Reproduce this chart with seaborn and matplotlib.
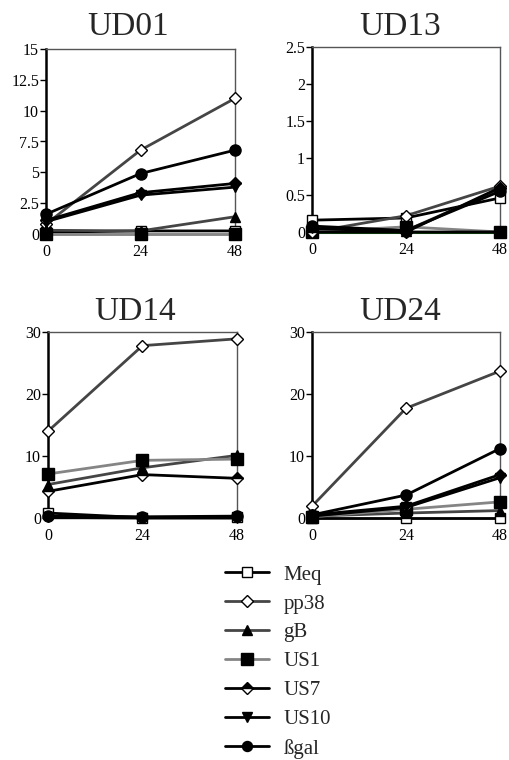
import matplotlib
matplotlib.use("Agg")
import matplotlib.pyplot as plt
import seaborn as sns
import numpy as np
from matplotlib.lines import Line2D

sns.set_theme(style="white")
plt.rcParams['font.family'] = ['Liberation Serif', 'DejaVu Serif']

# ---------------- data ----------------
times = [0, 24, 48]
series = ["Meq", "pp38", "gB", "US1", "US7", "US10", "\u00dfgal"]
panels = ["UD01", "UD13", "UD14", "UD24"]

ud01_meq = [0.15, 0.25, 0.25]
ud01_pp38 = [0.8, 6.8, 11.0]
ud01_gb = [0.3, 0.25, 1.4]
ud01_us1 = [0.0, 0.0, 0.0]
ud01_us7 = [1.1, 3.35, 4.1]
ud01_us10 = [1.0, 3.15, 3.8]
ud01_bgal = [1.6, 4.9, 6.8]

ud13_meq = [0.16, 0.19, 0.46]
ud13_pp38 = [0.0, 0.22, 0.62]
ud13_gb = [0.0, 0.02, 0.58]
ud13_us1 = [0.0, 0.07, 0.0]
ud13_us7 = [0.0, 0.0, 0.6]
ud13_us10 = [0.05, 0.0, 0.0]
ud13_bgal = [0.08, 0.02, 0.55]
ud13_extra = [0.0, 0.0, 0.0]   # green line drawn along zero in UD13

ud14_meq = [0.8, 0.05, 0.15]
ud14_pp38 = [14.0, 27.8, 28.9]
ud14_gb = [5.4, 8.1, 10.1]
ud14_us1 = [7.1, 9.3, 9.5]
ud14_us7 = [4.3, 7.0, 6.4]
ud14_us10 = [0.1, 0.0, 0.0]
ud14_bgal = [0.3, 0.2, 0.3]

ud24_meq = [0.0, 0.0, 0.0]
ud24_pp38 = [1.9, 17.7, 23.7]
ud24_gb = [0.3, 0.8, 1.2]
ud24_us1 = [0.2, 1.4, 2.6]
ud24_us7 = [0.5, 1.9, 7.0]
ud24_us10 = [0.3, 1.7, 6.5]
ud24_bgal = [0.5, 3.7, 11.2]

y_max = [15, 2.5, 30, 30]
y_ticks = [[0, 2.5, 5, 7.5, 10, 12.5, 15],
           [0, 0.5, 1, 1.5, 2, 2.5],
           [0, 10, 20, 30],
           [0, 10, 20, 30]]
y_ticklabels = [["0", "2.5", "5", "7.5", "10", "12.5", "15"],
                ["0", "0.5", "1", "1.5", "2", "2.5"],
                ["0", "10", "20", "30"],
                ["0", "10", "20", "30"]]
x_ticklabels = ["0", "24", "48"]

panel_data = [
    [ud01_meq, ud01_pp38, ud01_gb, ud01_us1, ud01_us7, ud01_us10, ud01_bgal],
    [ud13_meq, ud13_pp38, ud13_gb, ud13_us1, ud13_us7, ud13_us10, ud13_bgal],
    [ud14_meq, ud14_pp38, ud14_gb, ud14_us1, ud14_us7, ud14_us10, ud14_bgal],
    [ud24_meq, ud24_pp38, ud24_gb, ud24_us1, ud24_us7, ud24_us10, ud24_bgal],
]

# ---------------- styles ----------------
styles = {
    "Meq": dict(color="black", marker="s", markerfacecolor="white", markersize=7.5),
    "pp38": dict(color="#454545", marker="D", markerfacecolor="white", markersize=6.5),
    "gB": dict(color="#454545", marker="^", markerfacecolor="black", markersize=7.5),
    "US1": dict(color="#858585", marker="s", markerfacecolor="black", markersize=9),
    "US7": dict(color="black", marker="D", markerfacecolor="black", markersize=6.5,
                fillstyle="top", markerfacecoloralt="white"),
    "US10": dict(color="black", marker="v", markerfacecolor="black", markersize=7.5),
    "\u00dfgal": dict(color="black", marker="o", markerfacecolor="black", markersize=8),
}
LW = 2.0

W, H = 510, 760
fig = plt.figure(figsize=(W / 100, H / 100), dpi=100)

# axes boxes in pixels: left, right, top, bottom
boxes = [(46, 235, 49, 234), (312, 500, 47, 232), (48, 237, 332, 518), (312, 500, 332, 518)]
title_xy = [(128, 35), (400, 35), (135, 320), (400, 320)]

for i, (l, r, t, b) in enumerate(boxes):
    ax = fig.add_axes([l / W, 1 - b / H, (r - l) / W, (b - t) / H])
    ax.set_facecolor("white")
    if i == 1:
        sns.lineplot(x=times, y=ud13_extra, ax=ax, color="#1a6b1a", lw=2.2, clip_on=False, zorder=2)
    for name, vals in zip(series, panel_data[i]):
        st = styles[name]
        sns.lineplot(x=times, y=vals, ax=ax, lw=LW, markeredgecolor="black",
                     markeredgewidth=1.0, clip_on=False, zorder=3, **st)
    ax.set_xlim(0, 48)
    ax.set_ylim(0, y_max[i])
    ax.set_xticks(times)
    ax.set_xticklabels(x_ticklabels)
    ax.set_yticks(y_ticks[i])
    ax.set_yticklabels(y_ticklabels[i])
    ax.tick_params(axis="both", labelsize=11.5, colors="black")
    ax.tick_params(axis="y", direction="out", length=4, width=1, left=True, pad=1)
    ax.tick_params(axis="x", direction="out", length=2, width=1, bottom=True, pad=5)
    ax.set_xlabel("")
    ax.set_ylabel("")
    for side in ["top", "right"]:
        ax.spines[side].set_color("#555555")
        ax.spines[side].set_linewidth(1.0)
    ax.spines["left"].set_color("black")
    ax.spines["left"].set_linewidth(1.8)
    ax.spines["bottom"].set_color("black")
    ax.spines["bottom"].set_linewidth(1.0)
    tx, ty = title_xy[i]
    fig.text(tx / W, 1 - ty / H, panels[i], ha="center", va="baseline", fontsize=24)
    ax.grid(False)

handles = []
for name in series:
    st = dict(styles[name])
    st["markersize"] = st["markersize"] * 0.9
    handles.append(Line2D([0], [0], lw=LW, markeredgecolor="black", markeredgewidth=1.0, **st))

fig.legend(handles, series, loc="upper left", bbox_to_anchor=(225 / W, 1 - 565 / H),
           frameon=False, fontsize=15, handlelength=2.1, handletextpad=0.7,
           labelspacing=0.45, borderpad=0, borderaxespad=0)

fig.savefig("out.png", dpi=100, facecolor="white")
